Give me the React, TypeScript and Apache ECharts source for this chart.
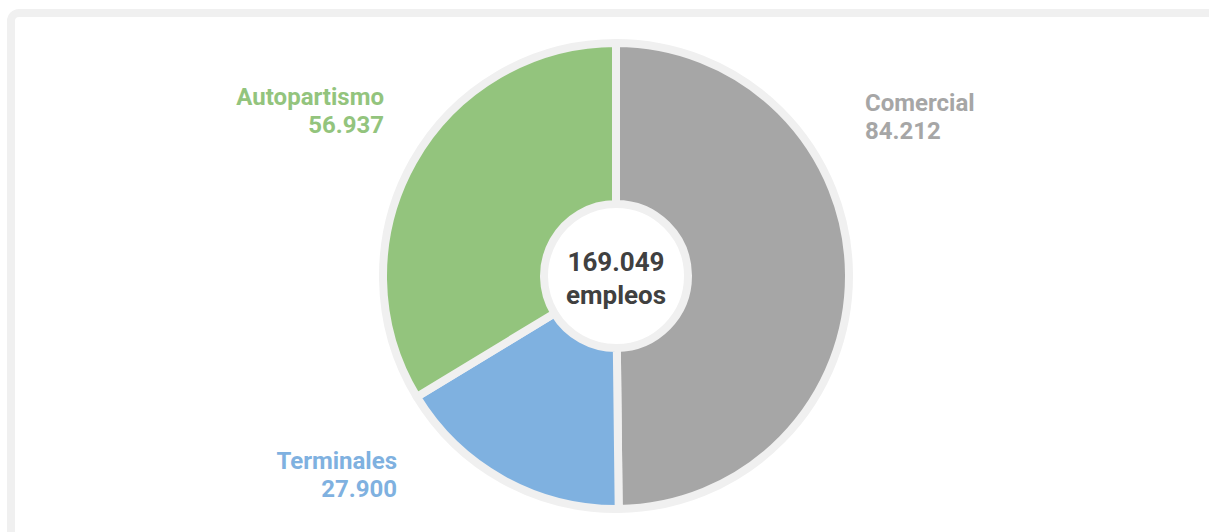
import React, { useEffect, useRef } from "react";
import * as echarts from "echarts";

const categories = ["Comercial", "Terminales", "Autopartismo"];
const values = [84212, 27900, 56937];
const colors = ["#a6a6a6", "#7fb1e0", "#93c47d"];
const centerUnit = "empleos";

const fmt = (n: number) => n.toString().replace(/\B(?=(\d{3})+(?!\d))/g, ".");

export default function App() {
  const ref = useRef<HTMLDivElement>(null);
  useEffect(() => {
    if (!ref.current) return;
    const chart = echarts.init(ref.current, undefined, { renderer: "svg" });
    const total = values.reduce((a, b) => a + b, 0);
    const labelPos = [
      { x: 865, y: 117, align: "left" },
      { x: 397, y: 475, align: "right" },
      { x: 384, y: 111, align: "right" },
    ];
    chart.setOption({
      animation: false,
      backgroundColor: "#ffffff",
      graphic: [
        {
          type: "rect",
          shape: { x: 11, y: 13, width: 1220, height: 560, r: 8 },
          style: { fill: "#ffffff", stroke: "#f0f0f0", lineWidth: 8 },
          z: -10,
        },
        {
          type: "text",
          x: 616,
          y: 278,
          style: {
            text: fmt(total) + "\n" + centerUnit,
            fontFamily: "Roboto",
            fontWeight: "bold",
            fontSize: 26,
            lineHeight: 33,
            fill: "#404040",
            align: "center",
            verticalAlign: "middle",
          },
          z: 100,
        },
      ],
      series: [
        {
          type: "pie",
          center: [616, 276],
          radius: [72, 233],
          startAngle: 90,
          clockwise: true,
          silent: true,
          itemStyle: { borderColor: "#f0f0f0", borderWidth: 8 },
          labelLine: { show: false },
          label: {
            show: true,
            fontFamily: "Roboto",
            fontWeight: "bold",
            fontSize: 24,
            lineHeight: 28,
            formatter: (p: any) => p.name + "\n" + fmt(p.value),
          },
          labelLayout: (p: any) => {
            const l = labelPos[p.dataIndex];
            return { x: l.x, y: l.y, align: l.align, verticalAlign: "middle" };
          },
          data: categories.map((c, i) => ({
            name: c,
            value: values[i],
            itemStyle: { color: colors[i] },
            label: { color: colors[i], align: labelPos[i].align },
          })),
        },
      ],
    });
    return () => chart.dispose();
  }, []);
  return (
    <div
      ref={ref}
      style={{ position: "fixed", left: 0, top: 0, width: 1209, height: 532 }}
    />
  );
}
